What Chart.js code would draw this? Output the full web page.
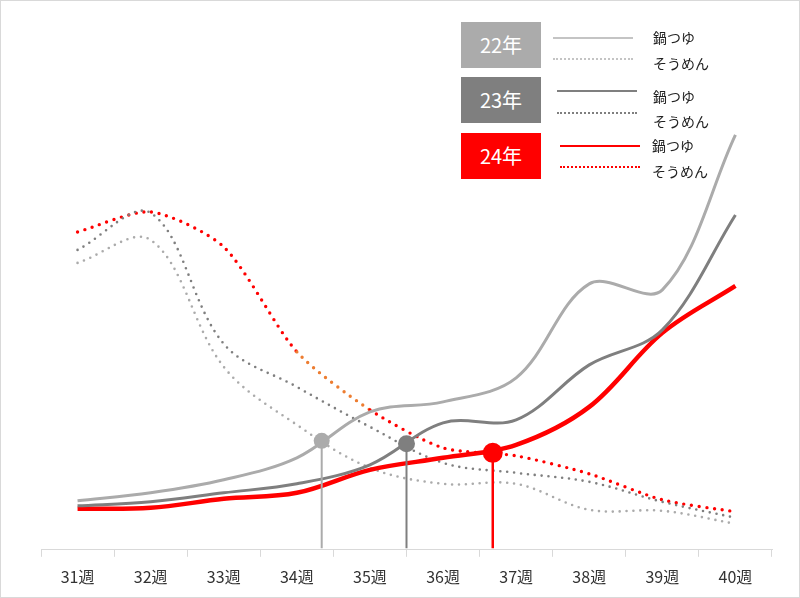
<!DOCTYPE html>
<html>
<head>
<meta charset="utf-8">
<script src="https://cdn.jsdelivr.net/npm/chart.js@4"></script>
<style>
  body { margin: 0; background: #fff; font-family: "Noto Sans CJK JP", "Noto Sans", sans-serif; }
  #wrap { position: relative; width: 800px; height: 598px; }
  #frame { position: absolute; left: 0; top: 0; width: 800px; height: 598px; box-sizing: border-box; border: 1px solid #d9d9d9; pointer-events: none; }
  .box { position: absolute; left: 461px; width: 80px; height: 46px; color: #fff; font-size: 20px; line-height: 46px; text-align: center; }
  .sample { position: absolute; width: 80px; height: 0; }
  .label { position: absolute; font-size: 14px; color: #222; line-height: 18px; }
</style>
</head>
<body>
<div id="wrap">
  <canvas id="chart" width="800" height="598"></canvas>
  <div id="legend"></div>
  <div id="frame"></div>
</div>
<script>
const weeks = ['31週', '32週', '33週', '34週', '35週', '36週', '37週', '38週', '39週', '40週'];

// 鍋つゆ (solid) and そうめん (dotted), per year
const nabe22 = [9.8, 11.4, 14.0, 18.4, 27.6, 29.6, 34.4, 53.2, 52.0, 83.0];
const nabe23 = [8.8, 9.6, 11.4, 13.2, 17.0, 25.4, 26.0, 37.0, 44.0, 67.0];
const nabe24 = [8.2, 8.4, 10.2, 11.4, 16.0, 18.4, 21.0, 28.6, 43.4, 52.8];
const somen22 = [57.4, 62.0, 36.6, 25.0, 16.4, 13.2, 13.2, 8.0, 7.8, 5.2];
const somen23 = [60.0, 67.4, 41.2, 32.6, 24.6, 17.4, 15.4, 13.6, 9.6, 6.4];
const somen24 = [63.6, 67.6, 60.6, 39.6, 28.0, 20.4, 18.8, 15.2, 10.0, 7.6];

// crossing points (week index, value)
const crossX = [3.34, 4.5, 5.68];
const crossY = [21.8, 21.2, 19.4];

const years = ['22年', '23年', '24年'];
const colors = ['#ababab', '#7f7f7f', '#ff0000'];
const orange = '#ed7d31';

function pts(arr) {
    return arr.map((v, i) => ({ x: i, y: v }));
}

function solid(data, color, width) {
    return {
        data: pts(data),
        borderColor: color,
        borderWidth: width,
        pointRadius: 0,
        tension: 0.35,
        order: 2
    };
}

function dotted(data, color, width, tension) {
    return {
        data: pts(data),
        borderColor: color,
        borderWidth: width,
        borderDash: [0, width + 4.3],
        borderCapStyle: 'round',
        pointRadius: 0,
        tension: tension,
        order: 3
    };
}

function cross(i, radius, width) {
    return {
        data: [{ x: crossX[i], y: crossY[i] }, { x: crossX[i], y: 0.3 }],
        borderColor: colors[i],
        backgroundColor: colors[i],
        borderWidth: width,
        pointRadius: [radius, 0],
        pointBorderWidth: 0,
        order: 1
    };
}

const red24 = dotted(somen24, colors[2], 3.4, 0.25);
red24.segment = { borderColor: ctx => ctx.p0DataIndex === 3 ? orange : undefined };

new Chart(document.getElementById('chart'), {
    type: 'line',
    data: {
        datasets: [
            dotted(somen22, colors[0], 2.6, 0.35),
            dotted(somen23, colors[1], 2.6, 0.35),
            red24,
            solid(nabe22, colors[0], 3),
            solid(nabe23, colors[1], 3),
            solid(nabe24, colors[2], 4.5),
            cross(0, 8, 2),
            cross(1, 8.5, 2),
            cross(2, 10, 2.5)
        ]
    },
    options: {
        responsive: false,
        animation: false,
        devicePixelRatio: 1,
        layout: { padding: { left: 41, right: 28, top: 50, bottom: 0 } },
        plugins: { legend: { display: false }, tooltip: { enabled: false } },
        scales: {
            x: {
                type: 'linear',
                min: -0.5,
                max: 9.5,
                afterBuildTicks: axis => {
                    axis.ticks = weeks.map((w, i) => ({ value: i }));
                },
                ticks: {
                    callback: value => weeks[value],
                    color: '#333',
                    padding: 11,
                    maxRotation: 0,
                    autoSkip: false,
                    font: { family: '"Noto Sans CJK JP", sans-serif', size: 16 }
                },
                grid: {
                    offset: true,
                    drawOnChartArea: false,
                    drawTicks: true,
                    tickLength: 7,
                    color: '#d9d9d9'
                },
                border: { display: true, color: '#d9d9d9', width: 1 }
            },
            y: {
                display: false,
                min: 0,
                max: 100
            }
        }
    }
});

// legend built from the year list
const legend = document.getElementById('legend');
const boxTops = [22, 77, 133];
const lineOffsets = [[15.5, 37], [14, 36], [13, 34]];
const sampleLeft = [553, 557, 560];
const labelTops = [[28, 54], [87, 112], [136, 162]];
const sampleWidths = [2, 2.5, 2.5];
const sampleColors = ['#c4c4c4', '#7f7f7f', '#ff0000'];

years.forEach((y, i) => {
    const box = document.createElement('div');
    box.className = 'box';
    box.style.top = boxTops[i] + 'px';
    box.style.background = colors[i];
    box.textContent = y;
    legend.appendChild(box);

    ['solid', 'dotted'].forEach((style, k) => {
        const s = document.createElement('div');
        s.className = 'sample';
        s.style.left = sampleLeft[i] + 'px';
        s.style.top = (boxTops[i] + lineOffsets[i][k] - sampleWidths[i] / 2) + 'px';
        s.style.borderTop = sampleWidths[i] + 'px ' + style + ' ' + sampleColors[i];
        legend.appendChild(s);

        const t = document.createElement('div');
        t.className = 'label';
        t.style.left = (i === 2 ? 652 : 653) + 'px';
        t.style.top = labelTops[i][k] + 'px';
        t.textContent = k === 0 ? '鍋つゆ' : 'そうめん';
        legend.appendChild(t);
    });
});
</script>
</body>
</html>
